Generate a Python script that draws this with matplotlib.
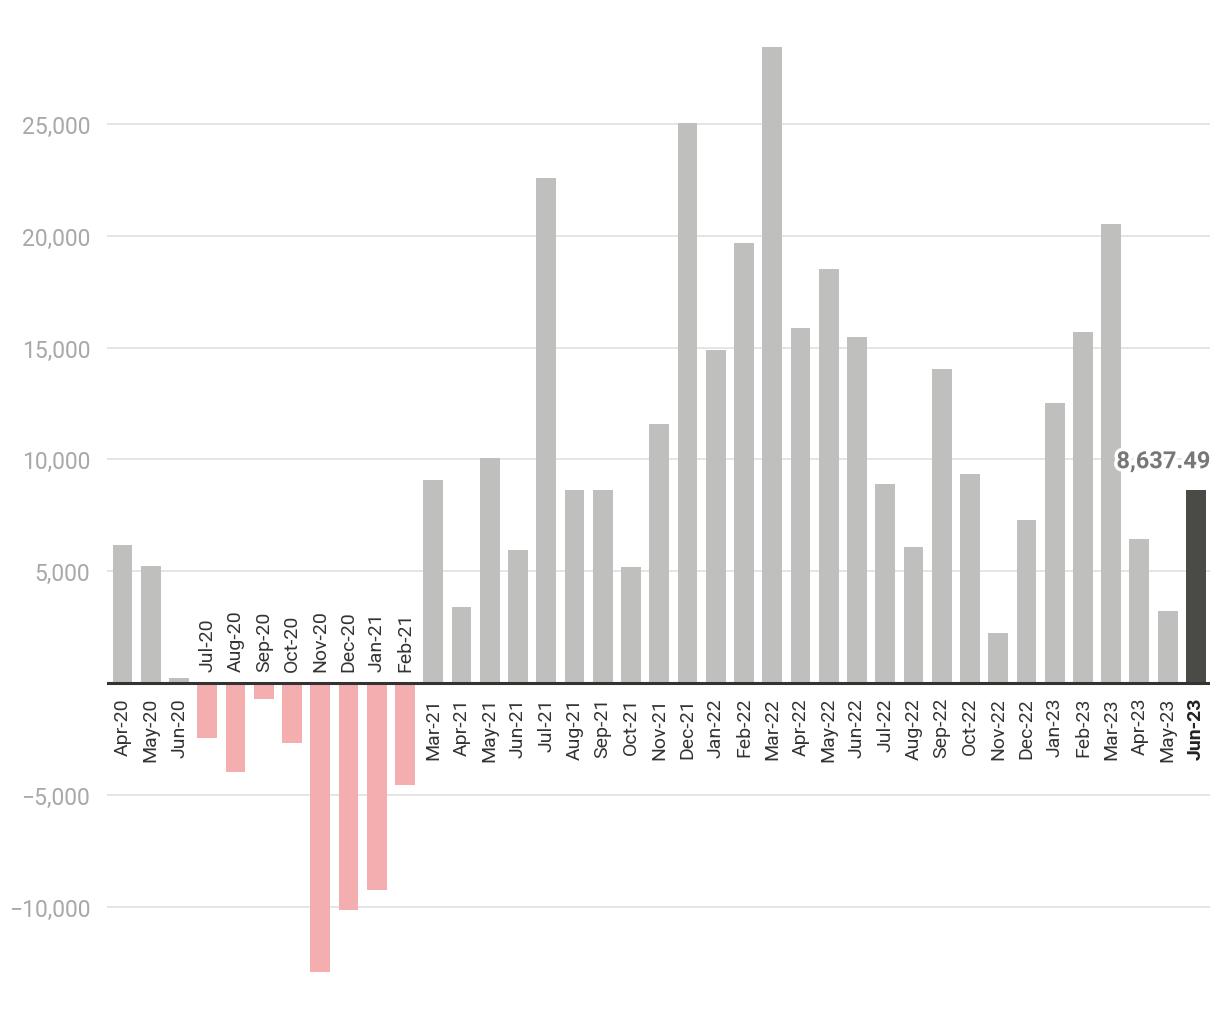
import matplotlib
matplotlib.use("Agg")
import matplotlib.pyplot as plt
import matplotlib.patheffects as pe
from matplotlib.ticker import FuncFormatter

months = ["Apr-20", "May-20", "Jun-20", "Jul-20", "Aug-20", "Sep-20", "Oct-20", "Nov-20",
          "Dec-20", "Jan-21", "Feb-21", "Mar-21", "Apr-21", "May-21", "Jun-21", "Jul-21",
          "Aug-21", "Sep-21", "Oct-21", "Nov-21", "Dec-21", "Jan-22", "Feb-22", "Mar-22",
          "Apr-22", "May-22", "Jun-22", "Jul-22", "Aug-22", "Sep-22", "Oct-22", "Nov-22",
          "Dec-22", "Jan-23", "Feb-23", "Mar-23", "Apr-23", "May-23", "Jun-23"]
values = [6180, 5240, 220, -2470, -4000, -720, -2700, -12920,
          -10150, -9250, -4540, 9100, 3400, 10080, 5960, 22580,
          8640, 8640, 5200, 11600, 25040, 14880, 19660, 28440,
          15860, 18500, 15460, 8880, 6100, 14060, 9360, 2240,
          7300, 12540, 15680, 20520, 6460, 3220, 8637.49]
y_ticks = [-10000, -5000, 0, 5000, 10000, 15000, 20000, 25000]

plt.rcParams['font.family'] = ['Roboto', 'DejaVu Sans']

W, H = 1220, 1020
fig = plt.figure(figsize=(W / 100, H / 100), dpi=100)
left, right, top, bottom = 107, 1210, 30, 990
ax = fig.add_axes([left / W, 1 - bottom / H, (right - left) / W, (bottom - top) / H])

n = len(values)
colors = []
for i, v in enumerate(values):
    if i == n - 1:
        colors.append("#4a4b45")
    elif v < 0:
        colors.append("#f4aeb0")
    else:
        colors.append("#bfbfbd")

x = list(range(n))
ax.bar(x, values, width=0.7, color=colors, zorder=2)

ax.set_xlim(-0.55, n - 0.5)
ax.set_ylim(-13685, 29250)
ax.set_yticks([t for t in y_ticks if t != 0])
ax.yaxis.grid(True, color="#e3e3e3", linewidth=1.3, zorder=0)
ax.axhline(0, color="#333333", linewidth=2.2, zorder=3)


def fmt(v, pos):
    s = f"{abs(int(v)):,}"
    return ("\u2212" + s) if v < 0 else s


ax.yaxis.set_major_formatter(FuncFormatter(fmt))
ax.tick_params(axis="y", length=0, pad=12, labelsize=16.5, labelcolor="#a8a8a8")
ax.set_xticks([])
for s in ax.spines.values():
    s.set_visible(False)

for i, (m, v) in enumerate(zip(months, values)):
    bold = (i == n - 1)
    if v >= 0:
        ax.annotate(m, xy=(i, 0), xytext=(0, -10), textcoords="offset points",
                    rotation=90, ha="center", va="top", fontsize=14,
                    color="#222222" if bold else "#333333",
                    fontweight="bold" if bold else "normal")
    else:
        ax.annotate(m, xy=(i, 0), xytext=(0, 8.5), textcoords="offset points",
                    rotation=90, ha="center", va="bottom", fontsize=14,
                    color="#333333")

last = values[-1]
ax.annotate(f"{last:,.2f}", xy=(n - 1, last), xytext=(10.5, 12), textcoords="offset points",
            ha="right", va="bottom", fontsize=17, fontweight="bold", color="#777777",
            path_effects=[pe.withStroke(linewidth=5, foreground="white")], zorder=5)

fig.savefig("out.png", dpi=100)
